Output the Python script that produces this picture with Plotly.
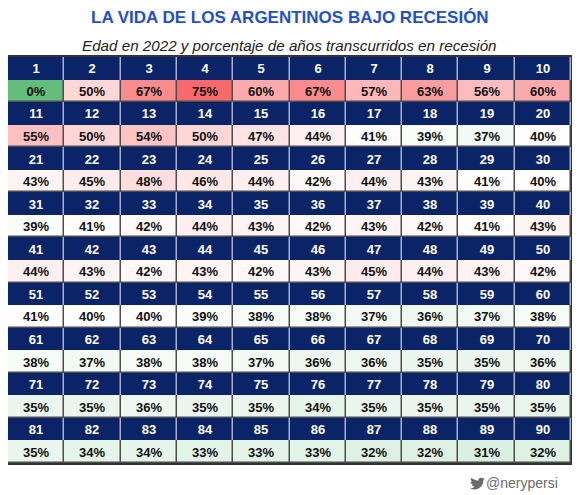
import plotly.graph_objects as go
import numpy as np

# Edad en 2022 (1..90) y porcentaje de años en recesión
ages = list(range(1, 91))
pct = [
    0, 50, 67, 75, 60, 67, 57, 63, 56, 60,
    55, 50, 54, 50, 47, 44, 41, 39, 37, 40,
    43, 45, 48, 46, 44, 42, 44, 43, 41, 40,
    39, 41, 42, 44, 43, 42, 43, 42, 41, 43,
    44, 43, 42, 43, 42, 43, 45, 44, 43, 42,
    41, 40, 40, 39, 38, 38, 37, 36, 37, 38,
    38, 37, 38, 38, 37, 36, 36, 35, 35, 36,
    35, 35, 36, 35, 35, 34, 35, 35, 35, 35,
    35, 34, 34, 33, 33, 33, 32, 32, 31, 32,
]
title = "LA VIDA DE LOS ARGENTINOS BAJO RECESIÓN"
subtitle = "Edad en 2022 y porcentaje de años transcurridos en recesión"
credit = "@nerypersi"

NCOL = 10
NAVY = "#0b2468"
FONT = "Liberation Sans, Arial"

# page body has an 8px margin, so the figure is drawn a bit smaller
W, H = 572, 487
ML, MR, MT, MB = 0, 9, 49, 32
plot_w = W - ML - MR
plot_h = H - MT - MB


def py(px):
    # figure pixel (from top) -> paper y
    return (H - MB - px) / plot_h


nblocks = len(ages) // NCOL
nrows = 2 * nblocks
cols = list(range(NCOL))
rows = list(range(nrows))

# grids: even rows = age headers, odd rows = percentages
z_head = [[None] * NCOL for _ in rows]
t_head = [[""] * NCOL for _ in rows]
z_pct = [[None] * NCOL for _ in rows]
t_pct = [[""] * NCOL for _ in rows]
for i, (a, p) in enumerate(zip(ages, pct)):
    b, c = divmod(i, NCOL)
    z_head[2 * b][c] = 1
    t_head[2 * b][c] = "<b>%d</b>" % a
    z_pct[2 * b + 1][c] = p
    t_pct[2 * b + 1][c] = "<b>%d%%</b>" % p

# Excel-like 3 colour scale (green - white - red), midpoint at the median
vmin, vmax = min(pct), max(pct)
vmid = float(np.percentile(pct, 50))
mid_pos = (vmid - vmin) / (vmax - vmin)
scale = [[0, "#63be7b"], [mid_pos, "#ffffff"], [1, "#f8696b"]]

fig = go.Figure()

# light separators behind the header rows
fig.add_trace(go.Heatmap(
    x=cols, y=rows, z=z_head,
    colorscale=[[0, "#a9b1cc"], [1, "#a9b1cc"]],
    showscale=False, hoverinfo="skip",
))
fig.add_trace(go.Heatmap(
    x=cols, y=rows, z=z_head, text=t_head, texttemplate="%{text}",
    textfont=dict(family=FONT, size=13, color="white"),
    colorscale=[[0, NAVY], [1, NAVY]],
    showscale=False, xgap=1.5, ygap=0, hoverinfo="skip",
))
fig.add_trace(go.Heatmap(
    x=cols, y=rows, z=z_pct, text=t_pct, texttemplate="%{text}",
    textfont=dict(family=FONT, size=13, color="#111111"),
    colorscale=scale, zmin=vmin, zmax=vmax,
    showscale=False, xgap=1.5, ygap=1.5, hoverinfo="skip",
))

fig.add_annotation(
    x=0.5, y=py(10), xref="paper", yref="paper", yanchor="middle",
    text="<b>" + title + "</b>", showarrow=False,
    font=dict(family=FONT, size=17, color="#1f4fd0"),
)
fig.add_annotation(
    x=0.5, y=py(37), xref="paper", yref="paper", yanchor="middle",
    text="<i>" + subtitle + "</i>", showarrow=False,
    font=dict(family=FONT, size=15.2, color="#222222"),
)
fig.add_annotation(
    x=552 / plot_w, y=py(475), xref="paper", yref="paper",
    xanchor="right", yanchor="middle",
    text=credit, showarrow=False,
    font=dict(family=FONT, size=14, color="#6b6b6b"),
)

# small bird logo next to the credit
bird = [(24, 4.6), (21.1, 5.35), (23.3, 2.6), (20.2, 3.8), (18.4, 3.0),
        (16.3, 3.0), (14.5, 4.0), (13.5, 5.8), (13.7, 7.6), (9.5, 7.0),
        (5, 5), (1.6, 3.2), (1.0, 5.6), (3.2, 9.7), (0.9, 9.1), (2.0, 12.3),
        (4.9, 13.9), (2.7, 14.0), (4.5, 16.2), (7.5, 17.4), (4.0, 19.2),
        (1.4, 19.5), (0, 19.4), (4.0, 21.2), (7.6, 21.6), (13, 20.5),
        (17.5, 17.5), (20.6, 12.8), (21.6, 8.2), (21.6, 7.0)]
k = 0.62
path = "M " + " L ".join("%.2f,%.2f" % (bx * k, -by * k) for bx, by in bird) + " Z"
fig.add_shape(
    type="path", path=path, xref="paper", yref="paper",
    xsizemode="pixel", ysizemode="pixel",
    xanchor=462 / plot_w, yanchor=py(468),
    fillcolor="#6b6b6b", line=dict(width=0),
)

fig.update_xaxes(range=[-0.5, NCOL - 0.5], showticklabels=False, showgrid=False,
                 zeroline=False, showline=True, mirror=True,
                 linecolor="#333333", linewidth=1.5)
fig.update_yaxes(range=[nrows - 0.5, -0.5], showticklabels=False, showgrid=False,
                 zeroline=False, showline=True, mirror=True,
                 linecolor="#333333", linewidth=1.5)

fig.update_layout(
    width=W, height=H,
    margin=dict(l=ML, r=MR, t=MT, b=MB),
    paper_bgcolor="white",
    plot_bgcolor="#4d4d4d",
)

fig.write_html("out.html")
